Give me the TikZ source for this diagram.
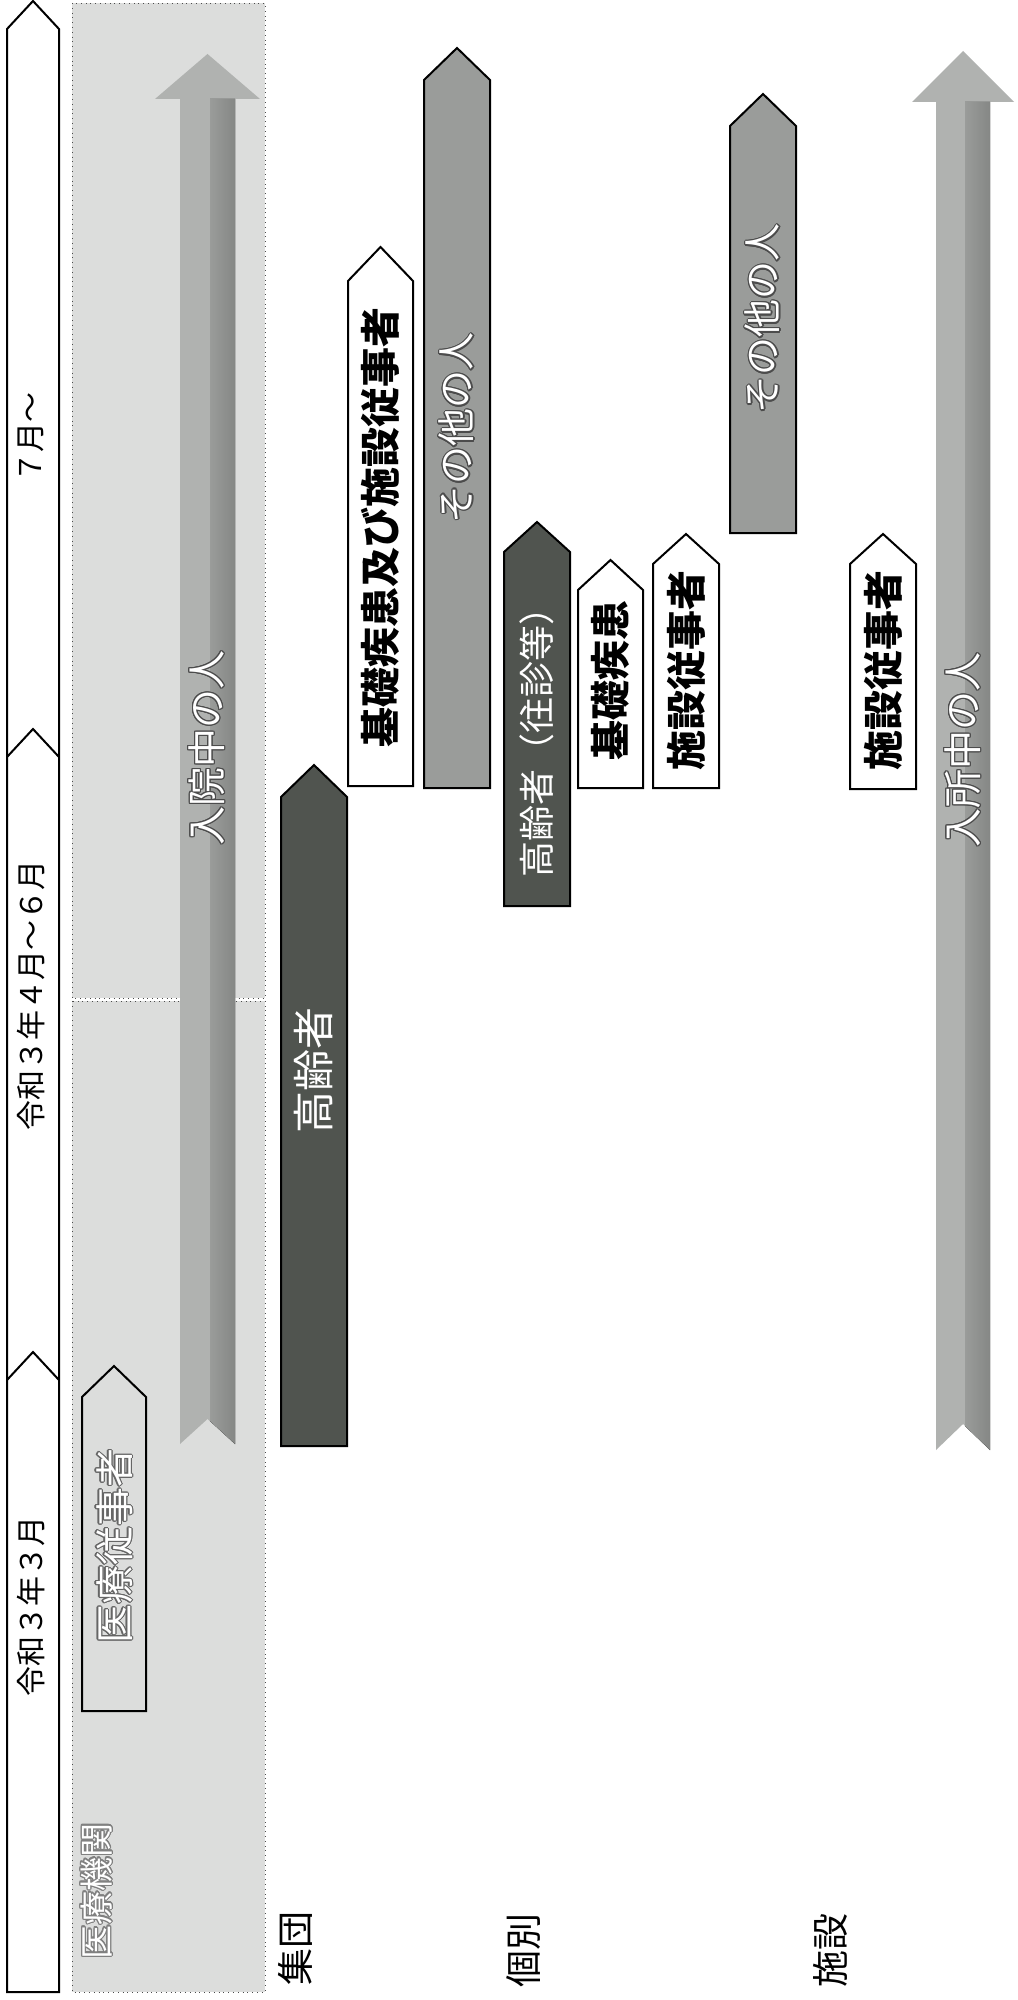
\documentclass[tikz,border=0pt]{standalone}
\usepackage{fontspec}
\setmainfont{Noto Sans CJK JP}
\usepackage{contour}
\contourlength{0.6pt}
\definecolor{darkfill}{HTML}{50544F}
\definecolor{midfill}{HTML}{9A9C9A}
\definecolor{zonefill}{HTML}{DCDDDC}
\definecolor{ribbonlight}{HTML}{B0B2B0}
\definecolor{ribbonmid}{HTML}{9A9C9A}
\definecolor{ribbondark}{HTML}{858785}

\begin{document}
\begin{tikzpicture}[x=0.5pt, y=-0.5pt,
	period/.style = {draw, fill=white, line width=1pt},
	zone/.style = {draw=black!70, dotted, fill=zonefill},
	tagbox/.style = {draw, line width=1pt, line join=miter},
	whitebox/.style = {tagbox, fill=white},
	darkbox/.style = {tagbox, fill=darkfill},
	graybox/.style = {tagbox, fill=midfill},
	ribbon/.style = {fill=ribbonlight},
	ribbonside/.style = {left color=ribbonmid, right color=ribbondark},
	vtext/.style = {rotate=90, inner sep=0pt},
	timelbl/.style = {vtext, font=\fontsize{15pt}{15pt}\selectfont},
	rowlbl/.style = {vtext, font=\fontsize{18.5pt}{18.5pt}\selectfont},
	boldlbl/.style = {vtext, font=\fontsize{20pt}{20pt}\selectfont\bfseries},
	darklbl/.style = {vtext, text=white},
	ghostlbl/.style = {vtext, text=white}]
	
	\useasboundingbox (0,0) rectangle (1017,2000);
	\fill[white] (0,0) rectangle (1017,2000);
	
	% time line
	\draw[period] (7,1992) -- (7,29) -- (33,1) -- (59,29) -- (59,1992) -- cycle;
	\draw[line width=1pt] (7,1380) -- (33,1352) -- (59,1380);
	\draw[line width=1pt] (7,757) -- (33,729) -- (59,757);
	\node[timelbl] (march) at (31,1606) {令和３年３月};
	\node[timelbl] (april) at (31,995) {令和３年４月～６月};
	\node[timelbl] (july) at (31,437) {７月～};
	
	% hospitals
	\draw[zone] (72,3) rectangle (265,998);
	\draw[zone] (72,1001) rectangle (265,1992);
	\fill[ribbon] (180,1444) -- (180,99) -- (155,99) -- (207.5,54) -- (260,99) -- (235,99) -- (235,1444) -- (207.5,1419) -- cycle;
	\fill[ribbonside] (210,1421) -- (210,99) -- (235,99) -- (235,1444) -- cycle;
	\node[ghostlbl, font=\fontsize{19.5pt}{19.5pt}\selectfont] (inpatient) at (207,748) {\contour{black!70}{入院中の人}};
	\draw[tagbox] (82,1711) -- (82,1397) -- (114,1366) -- (146,1397) -- (146,1711) -- cycle;
	\node[ghostlbl, font=\fontsize{19.5pt}{19.5pt}\selectfont] (medstaff) at (115,1546) {\contour{black!60}{医療従事者}};
	\node[ghostlbl, font=\fontsize{17pt}{17pt}\selectfont] (hospital) at (97,1891) {\contour{black!50}{医療機関}};
	
	% group
	\draw[darkbox] (281,1446) -- (281,797) -- (314,765) -- (347,797) -- (347,1446) -- cycle;
	\node[darklbl, font=\fontsize{21pt}{21pt}\selectfont] (elderA) at (314,1070) {高齢者};
	\draw[whitebox] (348,786) -- (348,281) -- (380.5,247) -- (413,281) -- (413,786) -- cycle;
	\node[boldlbl] (basicA) at (380,527) {基礎疾患及び施設従事者};
	\draw[graybox] (424,788) -- (424,80) -- (457,48) -- (490,80) -- (490,788) -- cycle;
	\node[ghostlbl, font=\fontsize{19pt}{19pt}\selectfont] (othersA) at (457,428) {\contour{black!70}{その他の人}};
	
	% individual
	\draw[darkbox] (504,906) -- (504,552) -- (537,522) -- (570,552) -- (570,906) -- cycle;
	\node[darklbl, font=\fontsize{18pt}{18pt}\selectfont] (elderB) at (537,733) {高齢者（往診等）};
	\draw[whitebox] (578,788) -- (578,590) -- (610.5,560) -- (643,590) -- (643,788) -- cycle;
	\node[boldlbl] (basicB) at (610,680) {基礎疾患};
	\draw[whitebox] (653,788) -- (653,564) -- (686,534) -- (719,564) -- (719,788) -- cycle;
	\node[boldlbl] (staffB) at (686,670) {施設従事者};
	\draw[graybox] (730,533) -- (730,126) -- (763,94) -- (796,126) -- (796,533) -- cycle;
	\node[ghostlbl, font=\fontsize{19pt}{19pt}\selectfont] (othersB) at (763,319) {\contour{black!70}{その他の人}};
	
	% facility
	\draw[whitebox] (850,789) -- (850,564) -- (883,534) -- (916,564) -- (916,789) -- cycle;
	\node[boldlbl] (staffC) at (883,670) {施設従事者};
	\fill[ribbon] (936,1450) -- (936,102) -- (912,102) -- (963,51) -- (1014,102) -- (990,102) -- (990,1450) -- (963,1424) -- cycle;
	\fill[ribbonside] (965,1426) -- (965,102) -- (990,102) -- (990,1450) -- cycle;
	\node[ghostlbl, font=\fontsize{19.5pt}{19.5pt}\selectfont] (resident) at (963,750) {\contour{black!70}{入所中の人}};
	
	\node[rowlbl] (group) at (295,1948) {集団};
	\node[rowlbl] (single) at (524,1950) {個別};
	\node[rowlbl] (facility) at (830,1950) {施設};
\end{tikzpicture}
\end{document}
